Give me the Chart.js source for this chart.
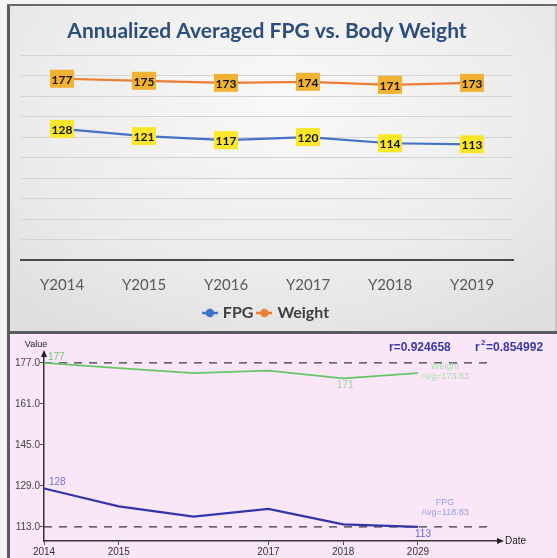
<!DOCTYPE html>
<html>
<head>
<meta charset="utf-8">
<script src="https://cdn.jsdelivr.net/npm/chart.js@4.4.0/dist/chart.umd.min.js"></script>
<style>
    body { margin: 0; background: #f4f4f4; }
    #page { position: relative; width: 557px; height: 558px; overflow: hidden; background: #f4f4f4; }
    #leftbar { position: absolute; left: 7px; top: 4px; width: 3px; height: 554px; background: #5b5b5b; }
    #topbar { position: absolute; left: 7px; top: 4px; width: 550px; height: 2px; background: #6b6b6b; }
    #top-box {
        position: absolute; left: 10px; top: 6px; width: 545px; height: 325px;
        background: radial-gradient(ellipse 75% 85% at 50% 30%, #f9f9f9 0%, #ececec 60%, #dedede 100%);
    }
    #rightbar { position: absolute; left: 555px; top: 6px; width: 2px; height: 325px; background: #c4c4c4; }
    #sep { position: absolute; left: 7px; top: 331px; width: 550px; height: 3px; background: #5b5b5b; }
    #bottom-box { position: absolute; left: 10px; top: 334px; width: 547px; height: 224px; background: #f9e7f8; }
</style>
</head>
<body>
<div id="page">
    <div id="top-box"><canvas id="topChart"></canvas></div>
    <div id="bottom-box"><canvas id="bottomChart"></canvas></div>
    <div id="leftbar"></div>
    <div id="topbar"></div>
    <div id="rightbar"></div>
    <div id="sep"></div>
</div>
<script>
// chart data
const yearLabels = ['Y2014', 'Y2015', 'Y2016', 'Y2017', 'Y2018', 'Y2019'];
const fpgValues = [128, 121, 117, 120, 114, 113];
const weightValues = [177, 175, 173, 174, 171, 173];

const dateYears = [2014, 2015, 2016, 2017, 2018, 2019];
const dateTickLabels = ['2014', '2015', '', '2017', '2018', '2029'];
const valueTicks = [113, 129, 145, 161, 177];
const refLineEnd = 2020;
const rText = 'r=0.924658';
const r2Text = '=0.854992';

const topFont = 'Lato';
const bottomFont = 'Liberation Sans';

// ################################################################################################
function legendMarker(color) {
    const c = document.createElement('canvas');
    c.width = 16;
    c.height = 10;
    const g = c.getContext('2d');
    g.strokeStyle = color;
    g.lineWidth = 2.5;
    g.beginPath();
    g.moveTo(0, 5);
    g.lineTo(16, 5);
    g.stroke();
    g.fillStyle = color;
    g.beginPath();
    g.arc(8, 5, 4.2, 0, Math.PI * 2);
    g.fill();
    return c;
}

const boxLabels = {
    id: 'boxLabels',
    afterDatasetsDraw(chart) {
        const ctx = chart.ctx;
        ctx.save();
        ctx.font = 'bold 12px ' + topFont;
        ctx.textAlign = 'center';
        ctx.textBaseline = 'middle';
        chart.data.datasets.forEach((ds, di) => {
            chart.getDatasetMeta(di).data.forEach((pt, i) => {
                const w = 24, h = 18;
                ctx.fillStyle = ds.labelBg;
                ctx.fillRect(pt.x - w / 2, pt.y - h / 2, w, h);
                ctx.fillStyle = '#141414';
                ctx.fillText(ds.data[i], pt.x, pt.y + 1);
            });
        });
        ctx.restore();
    }
};

new Chart(document.getElementById('topChart'), {
    type: 'line',
    data: {
        labels: yearLabels,
        datasets: [{
            label: 'FPG',
            data: fpgValues,
            borderColor: '#4472c4',
            borderWidth: 2.2,
            pointRadius: 0,
            labelBg: '#fbe62a',
            marker: legendMarker('#4472c4')
        }, {
            label: 'Weight',
            data: weightValues,
            borderColor: '#ed7d31',
            borderWidth: 2.2,
            pointRadius: 0,
            labelBg: '#f1b233',
            marker: legendMarker('#ed7d31')
        }]
    },
    options: {
        responsive: true,
        maintainAspectRatio: false,
        animation: false,
        layout: { padding: { left: 11, right: 42, top: 0, bottom: 0 } },
        plugins: {
            title: {
                display: true,
                text: 'Annualized Averaged FPG vs. Body Weight',
                color: '#2d4d7c',
                font: { family: topFont, size: 21, weight: 'bold' },
                padding: { top: 13, bottom: 11 }
            },
            legend: {
                position: 'bottom',
                labels: {
                    usePointStyle: true,
                    pointStyleWidth: 10,
                    padding: 6,
                    color: '#404040',
                    font: { family: topFont, size: 16, weight: 'bold' },
                    generateLabels(chart) {
                        return chart.data.datasets.map((ds, i) => ({
                            text: ds.label,
                            pointStyle: ds.marker,
                            fontColor: '#404040',
                            strokeStyle: ds.borderColor,
                            fillStyle: ds.borderColor,
                            lineWidth: 0,
                            datasetIndex: i
                        }));
                    }
                }
            },
            tooltip: { enabled: false }
        },
        scales: {
            x: {
                offset: true,
                grid: { drawOnChartArea: false, drawTicks: false, offset: false },
                border: { color: '#4a4a4a', width: 2 },
                ticks: { color: '#595959', padding: 16, font: { family: topFont, size: 15 } },
                afterFit(scale) { scale.height = 39; }
            },
            y: {
                min: 0,
                max: 200,
                ticks: { display: false, stepSize: 20 },
                grid: { color: '#d3d3d3', drawTicks: false },
                border: { display: false }
            }
        }
    },
    plugins: [boxLabels]
});

// ################################################################################################
function drawArrow(ctx, x, y, dir) {
    ctx.beginPath();
    if (dir === 'up') {
        ctx.moveTo(x, y - 4);
        ctx.lineTo(x - 3, y + 3);
        ctx.lineTo(x + 3, y + 3);
    } else {
        ctx.moveTo(x + 6, y);
        ctx.lineTo(x - 1, y - 3);
        ctx.lineTo(x - 1, y + 3);
    }
    ctx.closePath();
    ctx.fill();
}

const decorations = {
    id: 'decorations',
    afterDraw(chart) {
        const ctx = chart.ctx;
        const area = chart.chartArea;
        const wMeta = chart.getDatasetMeta(0).data;
        const fMeta = chart.getDatasetMeta(1).data;
        ctx.save();

        // axis arrows and names
        ctx.fillStyle = '#222';
        drawArrow(ctx, area.left, area.top, 'up');
        drawArrow(ctx, area.right, area.bottom, 'right');
        ctx.font = '9px ' + bottomFont;
        ctx.textAlign = 'center';
        ctx.textBaseline = 'middle';
        ctx.fillText('Value', area.left - 8, area.top - 9);
        ctx.textAlign = 'left';
        ctx.font = '10px ' + bottomFont;
        ctx.fillText('Date', area.right + 7, area.bottom);

        // correlation
        ctx.fillStyle = '#3a3aa6';
        ctx.font = 'bold 12px ' + bottomFont;
        ctx.fillText(rText, 379, 14);
        ctx.fillText('r', 465, 14);
        ctx.font = 'bold 8px ' + bottomFont;
        ctx.fillText('2', 471, 9);
        ctx.font = 'bold 12px ' + bottomFont;
        ctx.fillText(r2Text, 476, 14);

        // point labels: first value, lowest value
        ctx.font = '10px ' + bottomFont;
        ctx.fillStyle = '#70c870';
        ctx.fillText(weightValues[0], wMeta[0].x + 4, wMeta[0].y - 6);
        ctx.fillStyle = '#7272d2';
        ctx.fillText(fpgValues[0], fMeta[0].x + 5, fMeta[0].y - 6);
        ctx.textAlign = 'center';
        const wMin = weightValues.indexOf(Math.min(...weightValues));
        const fMin = fpgValues.lastIndexOf(Math.min(...fpgValues));
        ctx.fillStyle = '#98d498';
        ctx.fillText(weightValues[wMin], wMeta[wMin].x + 2, wMeta[wMin].y + 7);
        ctx.fillStyle = '#6a6ad0';
        ctx.fillText(fpgValues[fMin], fMeta[fMin].x + 5, fMeta[fMin].y + 7);

        // averages
        const avg = arr => (arr.reduce((a, b) => a + b, 0) / arr.length).toFixed(2);
        const wLast = wMeta[wMeta.length - 1];
        const fLast = fMeta[fMeta.length - 1];
        ctx.font = '9px ' + bottomFont;
        ctx.fillStyle = '#addcad';
        ctx.fillText('Weight', wLast.x + 27, wLast.y - 7);
        ctx.fillText('Avg=' + avg(weightValues), wLast.x + 27, wLast.y + 3);
        ctx.fillStyle = '#9c9ce0';
        ctx.fillText('FPG', fLast.x + 27, fLast.y - 24);
        ctx.fillText('Avg=' + avg(fpgValues), fLast.x + 27, fLast.y - 14);
        ctx.restore();
    }
};

const maxWeight = Math.max(...weightValues);
const minFpg = Math.min(...fpgValues);

new Chart(document.getElementById('bottomChart'), {
    type: 'line',
    data: {
        datasets: [{
            label: 'Weight',
            data: dateYears.map((x, i) => ({ x: x, y: weightValues[i] })),
            borderColor: '#66c566',
            borderWidth: 1.8,
            pointRadius: 0
        }, {
            label: 'FPG',
            data: dateYears.map((x, i) => ({ x: x, y: fpgValues[i] })),
            borderColor: '#3434a8',
            borderWidth: 2.2,
            pointRadius: 0
        }, {
            label: 'max',
            data: [{ x: dateYears[0], y: maxWeight }, { x: refLineEnd, y: maxWeight }],
            borderColor: '#3a3a3a',
            borderWidth: 1.3,
            borderDash: [8, 7],
            pointRadius: 0
        }, {
            label: 'min',
            data: [{ x: dateYears[0], y: minFpg }, { x: refLineEnd, y: minFpg }],
            borderColor: '#3a3a3a',
            borderWidth: 1.3,
            borderDash: [8, 7],
            pointRadius: 0
        }]
    },
    options: {
        responsive: true,
        maintainAspectRatio: false,
        animation: false,
        layout: { padding: { left: 0, right: 59, top: 20, bottom: 0 } },
        plugins: { legend: { display: false }, tooltip: { enabled: false } },
        scales: {
            x: {
                type: 'linear',
                min: 2014,
                max: 2020.07,
                afterBuildTicks(scale) { scale.ticks = dateYears.map(v => ({ value: v })); },
                ticks: {
                    autoSkip: false,
                    maxRotation: 0,
                    padding: 1,
                    color: '#333',
                    font: { family: bottomFont, size: 10 },
                    callback: (v, i) => dateTickLabels[i]
                },
                grid: {
                    drawOnChartArea: false,
                    tickLength: 4,
                    color: c => dateTickLabels[c.index] ? '#555' : 'rgba(0,0,0,0)'
                },
                border: { color: '#333', width: 1.5 },
                afterFit(scale) { scale.height = 17; }
            },
            y: {
                min: 107.5,
                max: 180.5,
                afterBuildTicks(scale) { scale.ticks = valueTicks.map(v => ({ value: v })); },
                ticks: {
                    padding: 0,
                    color: '#444',
                    font: { family: bottomFont, size: 10 },
                    callback: v => v.toFixed(1)
                },
                grid: { drawOnChartArea: false, tickLength: 4, color: '#555' },
                border: { color: '#333', width: 1.5 },
                afterFit(scale) { scale.width = 34; }
            }
        }
    },
    plugins: [decorations]
});
</script>
</body>
</html>
